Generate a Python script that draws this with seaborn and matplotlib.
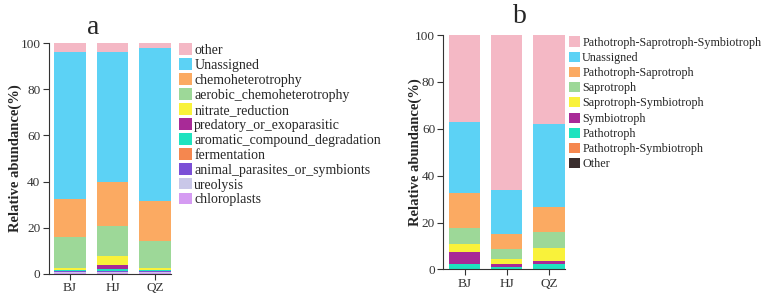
import matplotlib

matplotlib.use("Agg")
import matplotlib.pyplot as plt
import numpy as np
import pandas as pd
import seaborn as sns

samples = ["BJ", "HJ", "QZ"]

# panel a: bacterial functions, listed bottom -> top of the stack
bac_groups = [
    "chloroplasts", "ureolysis", "animal_parasites_or_symbionts", "fermentation",
    "aromatic_compound_degradation", "predatory_or_exoparasitic", "nitrate_reduction",
    "aerobic_chemoheterotrophy", "chemoheterotrophy", "Unassigned", "other",
]
bac_bj = [0.6, 0.3, 0.3, 0.1, 0.3, 0.2, 0.8, 13.4, 16.5, 63.9, 3.6]
bac_hj = [0.4, 0.3, 0.5, 0.2, 0.7, 1.6, 3.9, 13.3, 18.9, 56.4, 3.8]
bac_qz = [0.5, 0.4, 0.3, 0.2, 0.2, 0.2, 0.9, 11.7, 17.3, 66.4, 1.9]
bac_colors = [
    "#D59BF2", "#C9C7E8", "#7B4FD6", "#F5874F", "#1EE3BF", "#A82A97",
    "#F9F23A", "#9DD898", "#FBAA62", "#5CD2F5", "#F4B8C5",
]

# panel b: fungal guilds, bottom -> top
fun_groups = [
    "Other", "Pathotroph-Symbiotroph", "Pathotroph", "Symbiotroph",
    "Saprotroph-Symbiotroph", "Saprotroph", "Pathotroph-Saprotroph",
    "Unassigned", "Pathotroph-Saprotroph-Symbiotroph",
]
fun_bj = [0.1, 0.2, 1.8, 5.2, 3.6, 6.6, 15.1, 30.3, 37.1]
fun_hj = [0.1, 0.2, 0.6, 1.5, 2.1, 4.2, 6.5, 18.9, 65.9]
fun_qz = [0.1, 0.2, 2.1, 1.3, 5.5, 6.7, 10.6, 35.7, 37.8]
fun_colors = [
    "#3A2D2D", "#F5874F", "#1EE3BF", "#A82A97", "#F9F23A",
    "#9DD898", "#FBAA62", "#5CD2F5", "#F4B8C5",
]

sns.set_style("ticks")
plt.rcParams["font.family"] = ["Liberation Serif", "DejaVu Serif"]


def stacked(ax, groups, values, colors, leg_size, leg_anchor, leg_spacing, label_x):
    df = pd.DataFrame(np.array(values).T, index=groups, columns=samples)
    cum = df.cumsum()
    # draw tallest cumulative first so lower layers cover it
    for g, c in zip(groups[::-1], colors[::-1]):
        sns.barplot(x=samples, y=cum.loc[g].values, color=c, width=0.74,
                    saturation=1, label=g, ax=ax, edgecolor="none")
    ax.set_xlim(-0.5, 2.37)
    ax.set_ylim(0, 100)
    ax.set_yticks([0, 20, 40, 60, 80, 100])
    ax.set_ylabel("Relative abundance(%)", fontsize=10.5, fontweight="bold")
    ax.yaxis.set_label_coords(label_x, 0.5)
    ax.tick_params(labelsize=9.5, length=4, width=0.8, pad=2, colors="#333333")
    for s in ["left", "bottom"]:
        ax.spines[s].set_linewidth(0.8)
        ax.spines[s].set_color("#333333")
    sns.despine(ax=ax)
    ax.legend(loc="upper left", bbox_to_anchor=leg_anchor, frameon=False,
              fontsize=leg_size, handlelength=0.9, handleheight=0.9, handletextpad=0.2,
              labelspacing=leg_spacing, borderaxespad=0.2)


fig = plt.figure(figsize=(7.62, 3.0), dpi=100)
ax1 = fig.add_axes([0.064, 0.087, 0.16, 0.769])
ax2 = fig.add_axes([0.582, 0.102, 0.159, 0.781])

stacked(ax1, bac_groups, [bac_bj, bac_hj, bac_qz], bac_colors, 10, (1.0, 1.035), 0.1, -0.22)
stacked(ax2, fun_groups, [fun_bj, fun_hj, fun_qz], fun_colors, 8.7, (0.975, 1.025), 0.25, -0.178)

fig.text(0.122, 0.91, "a", fontsize=20, ha="center", va="center")
fig.text(0.682, 0.945, "b", fontsize=20, ha="center", va="center")

fig.savefig("out.png", dpi=100)
